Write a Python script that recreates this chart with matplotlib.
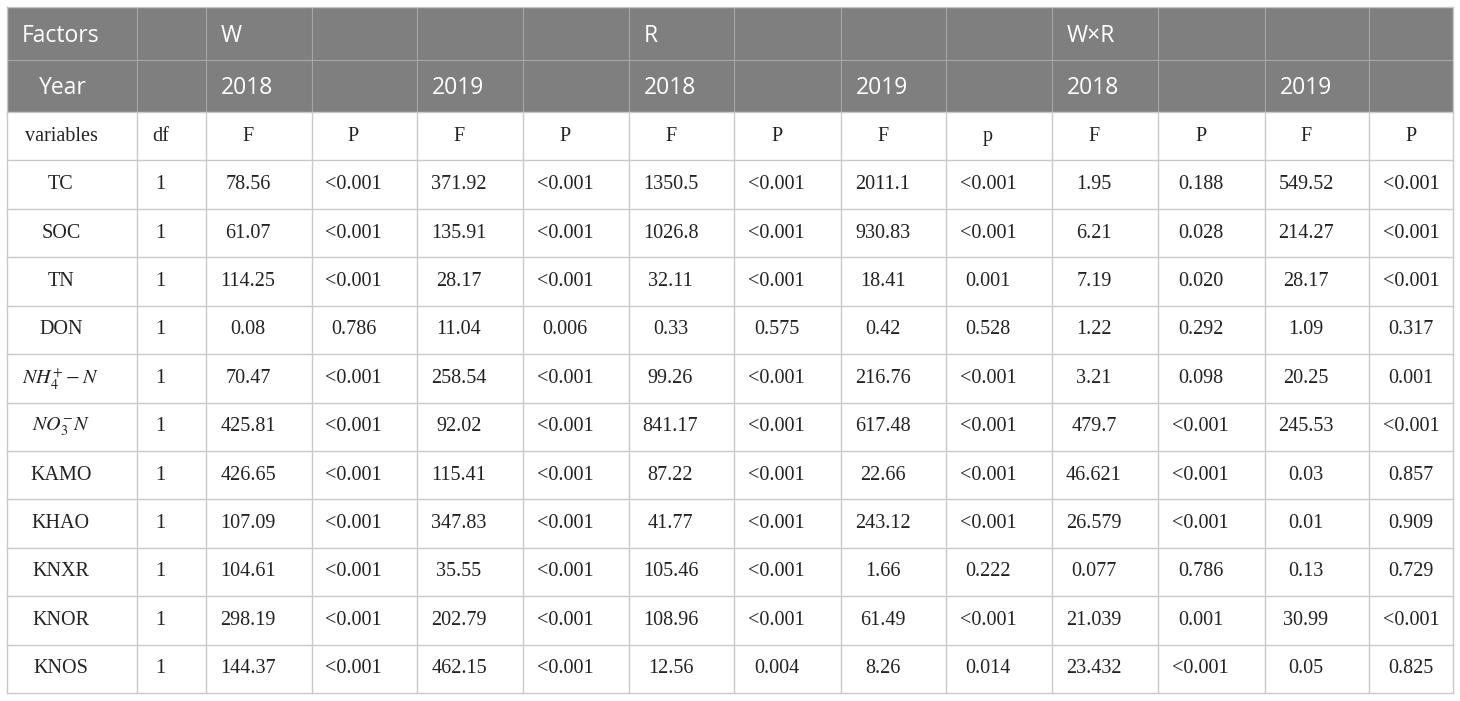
import matplotlib.pyplot as plt
from matplotlib.patches import Rectangle

plt.rcParams['mathtext.fontset'] = 'stix'

# table content
factors_row = ["Factors", "", "W", "", "", "", "R", "", "", "", "W\u00d7R", "", "", ""]
year_row = ["Year", "", "2018", "", "2019", "", "2018", "", "2019", "", "2018", "", "2019", ""]
sub_header = ["variables", "df", "F", "P", "F", "P", "F", "P", "F", "p", "F", "P", "F", "P"]

variables = ["TC", "SOC", "TN", "DON", r"$NH_4^{+}-N$", r"$NO_3^{-}N$",
             "KAMO", "KHAO", "KNXR", "KNOR", "KNOS"]
df_vals = ["1"] * 11
w_2018_f = ["78.56", "61.07", "114.25", "0.08", "70.47", "425.81", "426.65", "107.09", "104.61", "298.19", "144.37"]
w_2018_p = ["<0.001", "<0.001", "<0.001", "0.786", "<0.001", "<0.001", "<0.001", "<0.001", "<0.001", "<0.001", "<0.001"]
w_2019_f = ["371.92", "135.91", "28.17", "11.04", "258.54", "92.02", "115.41", "347.83", "35.55", "202.79", "462.15"]
w_2019_p = ["<0.001", "<0.001", "<0.001", "0.006", "<0.001", "<0.001", "<0.001", "<0.001", "<0.001", "<0.001", "<0.001"]
r_2018_f = ["1350.5", "1026.8", "32.11", "0.33", "99.26", "841.17", "87.22", "41.77", "105.46", "108.96", "12.56"]
r_2018_p = ["<0.001", "<0.001", "<0.001", "0.575", "<0.001", "<0.001", "<0.001", "<0.001", "<0.001", "<0.001", "0.004"]
r_2019_f = ["2011.1", "930.83", "18.41", "0.42", "216.76", "617.48", "22.66", "243.12", "1.66", "61.49", "8.26"]
r_2019_p = ["<0.001", "<0.001", "0.001", "0.528", "<0.001", "<0.001", "<0.001", "<0.001", "0.222", "<0.001", "0.014"]
wr_2018_f = ["1.95", "6.21", "7.19", "1.22", "3.21", "479.7", "46.621", "26.579", "0.077", "21.039", "23.432"]
wr_2018_p = ["0.188", "0.028", "0.020", "0.292", "0.098", "<0.001", "<0.001", "<0.001", "0.786", "0.001", "<0.001"]
wr_2019_f = ["549.52", "214.27", "28.17", "1.09", "20.25", "245.53", "0.03", "0.01", "0.13", "30.99", "0.05"]
wr_2019_p = ["<0.001", "<0.001", "<0.001", "0.317", "0.001", "<0.001", "0.857", "0.909", "0.729", "<0.001", "0.825"]

columns = [variables, df_vals, w_2018_f, w_2018_p, w_2019_f, w_2019_p,
           r_2018_f, r_2018_p, r_2019_f, r_2019_p, wr_2018_f, wr_2018_p, wr_2019_f, wr_2019_p]

# layout in pixels
col_edges = [7, 137, 206, 312, 417, 523, 629, 734, 841, 946, 1052, 1158, 1265, 1369, 1453]
head_edges = [7, 60, 112]
row_h = (693 - 112) / 12
body_edges = [112 + row_h * i for i in range(13)]

head_bg = "#7f7f7f"
grid_col = "#c9c9c9"
head_line = "#a6a6a6"

fig = plt.figure(figsize=(14.6, 7.01), dpi=100)
ax = fig.add_axes([0, 0, 1, 1])
ax.set_xlim(0, 1460)
ax.set_ylim(701, 0)
ax.axis('off')

# header background
ax.add_patch(Rectangle((col_edges[0], head_edges[0]), col_edges[-1] - col_edges[0],
                       head_edges[-1] - head_edges[0], facecolor=head_bg, edgecolor='none'))

# header lines
for x in col_edges[1:-1]:
    ax.plot([x, x], [head_edges[0], head_edges[-1]], color=head_line, lw=0.8)
ax.plot([col_edges[0], col_edges[-1]], [head_edges[1], head_edges[1]], color=head_line, lw=0.8)
ax.plot([col_edges[0], col_edges[-1]], [head_edges[0], head_edges[0]], color=grid_col, lw=1)

# body lines
for y in body_edges:
    ax.plot([col_edges[0], col_edges[-1]], [y, y], color=grid_col, lw=1)
for x in col_edges:
    ax.plot([x, x], [body_edges[0], body_edges[-1]], color=grid_col, lw=1)
for x in (col_edges[0], col_edges[-1]):
    ax.plot([x, x], [head_edges[0], head_edges[-1]], color=grid_col, lw=1)

# header texts
for row_i, row in enumerate([factors_row, year_row]):
    yc = (head_edges[row_i] + head_edges[row_i + 1]) / 2 + 2.5
    for j, txt in enumerate(row):
        if not txt:
            continue
        x = col_edges[j] + 15
        if txt == "Year":
            x = col_edges[j] + 32
        ax.text(x, yc, txt, ha='left', va='center', color='white',
                fontsize=16.5, family='Open Sans')


def cell_x(j):
    # the last column is cut off on the right, keep its text at the same offset
    if j == len(col_edges) - 2:
        return col_edges[j] + 42
    return (col_edges[j] + col_edges[j + 1]) / 2 - 11


# sub header
yc = (body_edges[0] + body_edges[1]) / 2
for j, txt in enumerate(sub_header):
    ax.text(cell_x(j), yc, txt, ha='center', va='center', color='#222222',
            fontsize=14.5, family='Liberation Serif')

# body cells
for i in range(len(variables)):
    yc = (body_edges[i + 1] + body_edges[i + 2]) / 2
    for j, col in enumerate(columns):
        ax.text(cell_x(j), yc, col[i], ha='center', va='center', color='#222222',
                fontsize=14.5, family='Liberation Serif')

fig.savefig("out.png", dpi=100)
